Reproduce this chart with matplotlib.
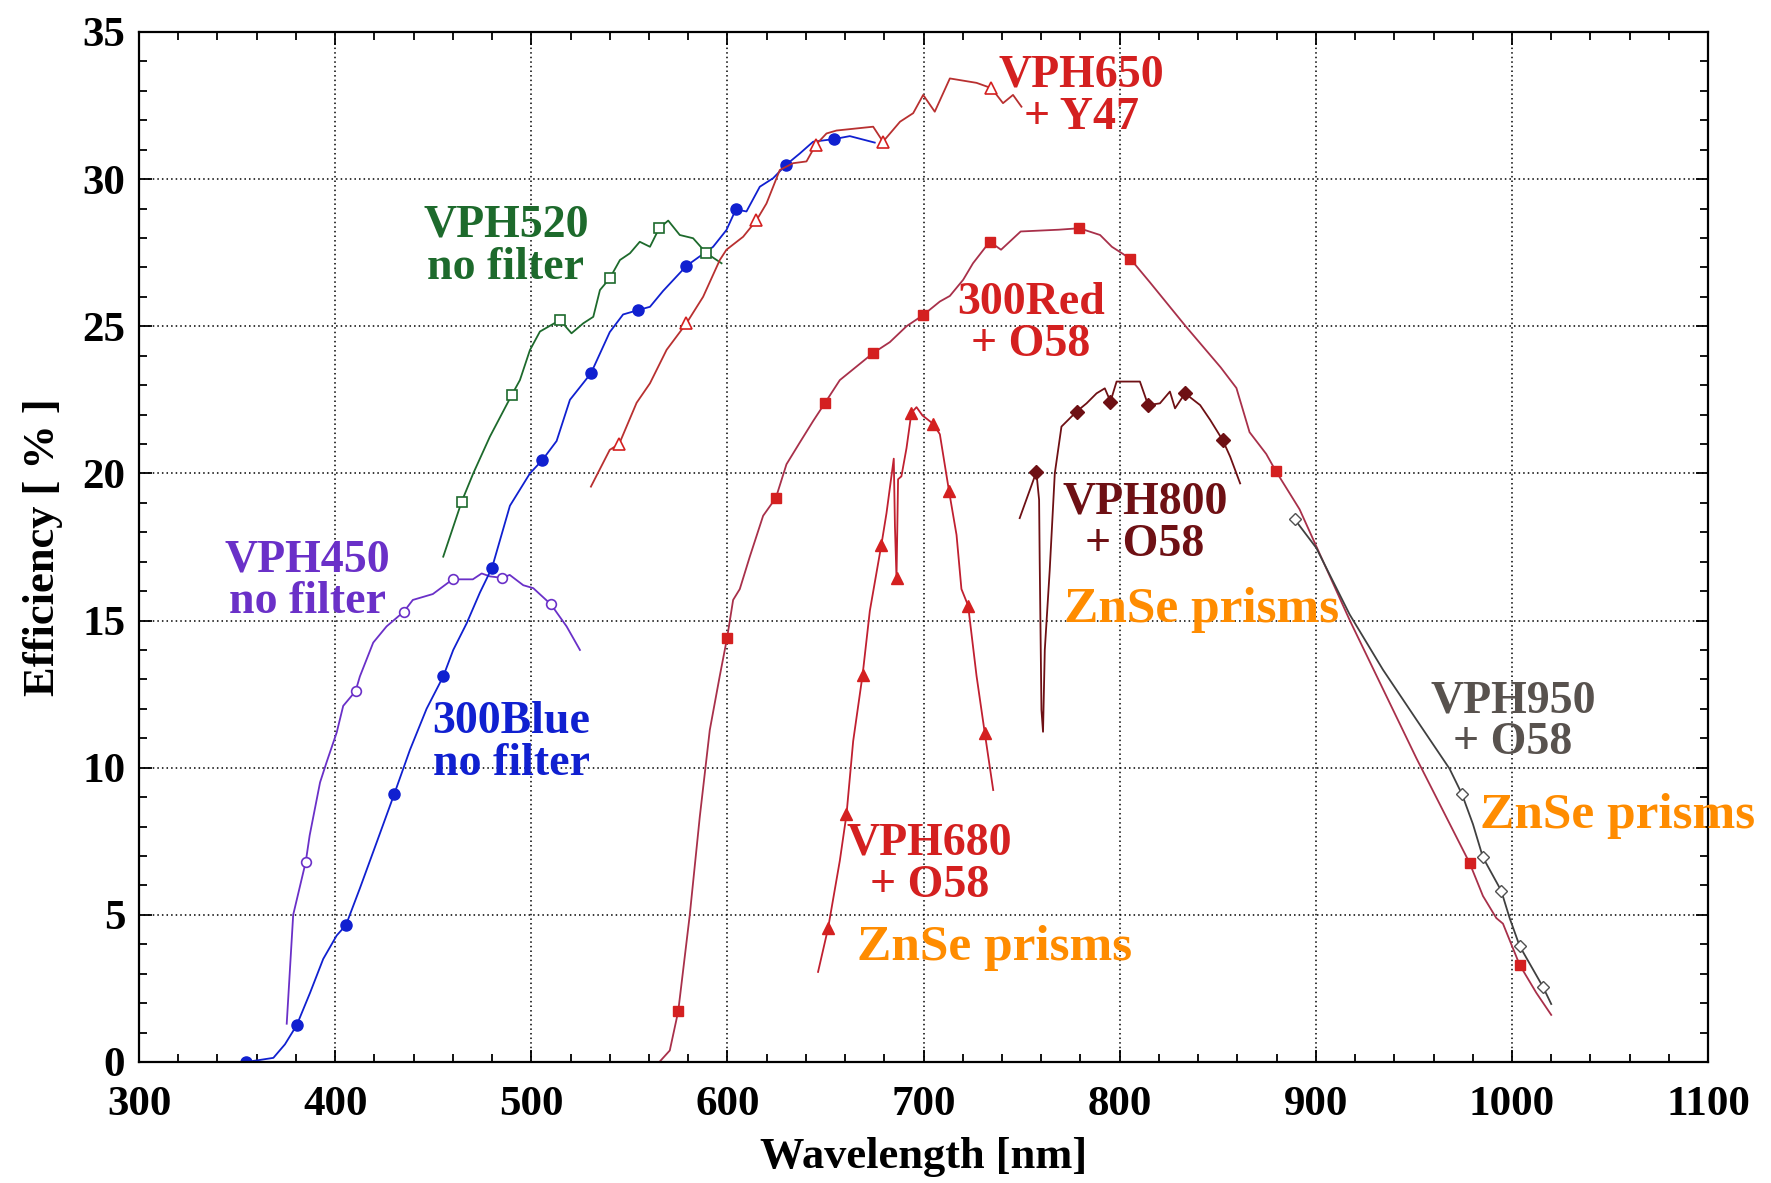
import matplotlib
matplotlib.use("Agg")
import matplotlib.pyplot as plt
from matplotlib.ticker import MultipleLocator

plt.rcParams['font.family'] = ['Liberation Serif', 'DejaVu Serif']
plt.rcParams['font.weight'] = 'bold'

# --- 300Blue no filter ---
blue_wl = [354.6, 361.7, 368.5, 374.4, 380.4, 387.2, 393.9, 400.8, 405.5, 412.6, 421.1, 430.1,
           438.1, 446.6, 455.1, 460.2, 467.0, 473.8, 480.0, 489.1, 499.3, 505.6, 512.9, 519.7,
           530.4, 540.0, 546.8, 554.5, 560.5, 567.2, 579.1, 592.7, 599.5, 604.3, 609.7, 616.5,
           623.3, 629.8, 636.9, 643.7, 654.4, 662.4, 675.1]
blue_eff = [0.0, 0.07, 0.14, 0.6, 1.25, 2.35, 3.5, 4.3, 4.65, 5.9, 7.45, 9.1,
            10.6, 12.0, 13.1, 14.0, 14.9, 15.95, 16.8, 18.9, 20.0, 20.45, 21.1, 22.5,
            23.4, 24.8, 25.4, 25.55, 25.66, 26.2, 27.05, 27.7, 28.27, 28.97, 28.9, 29.74,
            30.03, 30.48, 30.87, 31.27, 31.36, 31.46, 31.24]
blue_mk_wl = [354.6, 380.4, 405.5, 430.1, 455.1, 480.0, 505.6, 530.4, 554.5, 579.1, 604.3, 629.8, 654.4]
blue_mk_eff = [0.0, 1.25, 4.65, 9.1, 13.1, 16.8, 20.45, 23.4, 25.55, 27.05, 28.97, 30.48, 31.36]

# --- VPH450 no filter ---
v450_wl = [375.3, 378.6, 385.0, 387.0, 392.3, 395.7, 400.8, 404.1, 410.4, 412.6, 419.4, 426.2,
           435.0, 439.6, 449.8, 459.9, 470.2, 474.7, 478.9, 485.2, 489.0, 495.9, 501.0, 510.0,
           518.0, 524.8]
v450_eff = [1.3, 5.0, 6.8, 7.7, 9.5, 10.2, 11.2, 12.1, 12.6, 13.1, 14.25, 14.8,
            15.3, 15.7, 15.9, 16.4, 16.4, 16.6, 16.5, 16.45, 16.55, 16.2, 16.1, 15.55,
            14.8, 14.0]
v450_mk_wl = [385.0, 410.4, 435.0, 459.9, 485.2, 510.0]
v450_mk_eff = [6.8, 12.6, 15.3, 16.4, 16.45, 15.55]

# --- VPH520 no filter ---
v520_wl = [455.1, 464.5, 470.4, 478.9, 490.0, 494.2, 499.3, 504.4, 514.6, 520.5, 526.5, 531.6,
           535.0, 540.0, 545.2, 550.3, 555.3, 560.5, 565.2, 569.8, 575.7, 582.5, 589.3, 597.0]
v520_eff = [17.17, 19.04, 20.0, 21.25, 22.66, 23.17, 24.19, 24.82, 25.21, 24.76, 25.1, 25.32,
            26.23, 26.63, 27.25, 27.48, 27.87, 27.7, 28.33, 28.59, 28.1, 27.99, 27.48, 27.14]
v520_mk_wl = [464.5, 490.0, 514.6, 540.0, 565.2, 589.3]
v520_mk_eff = [19.04, 22.66, 25.21, 26.63, 28.33, 27.48]

# --- VPH650 + Y47 ---
v650_wl = [530.4, 540.0, 544.8, 553.7, 560.5, 569.0, 579.1, 587.6, 596.1, 599.5, 608.0, 614.8,
           619.9, 626.7, 633.5, 640.3, 645.0, 650.5, 655.6, 674.3, 679.3, 688.0, 694.7, 699.8,
           705.7, 713.4, 727.0, 734.6, 740.5, 745.6, 749.9]
v650_eff = [19.55, 20.8, 21.0, 22.4, 23.06, 24.2, 25.1, 26.0, 27.25, 27.6, 28.04, 28.6,
            29.17, 30.31, 30.54, 30.6, 31.16, 31.55, 31.65, 31.78, 31.27, 31.95, 32.24, 32.86,
            32.29, 33.42, 33.27, 33.09, 32.58, 32.86, 32.46]
v650_mk_wl = [544.8, 579.1, 614.8, 645.0, 679.3, 734.6]
v650_mk_eff = [21.0, 25.1, 28.6, 31.16, 31.27, 33.09]

# --- 300Red + O58 ---
red_wl = [565.3, 570.6, 574.9, 580.8, 585.9, 591.0, 596.1, 599.8, 602.9, 606.3, 611.4, 618.2,
          624.7, 630.1, 636.9, 643.7, 649.6, 657.3, 665.8, 674.3, 682.8, 691.3, 699.8, 708.3,
          713.4, 720.2, 725.2, 733.7, 739.5, 749.5, 768.9, 779.4, 790.0, 796.0, 805.3, 815.3,
          834.0, 851.5, 859.5, 866.2, 874.7, 879.5, 891.7, 917.2, 951.2, 978.4, 985.2, 992.0,
          995.4, 1003.9, 1012.4, 1020.0]
red_eff = [0.0, 0.39, 1.72, 5.0, 8.33, 11.28, 13.12, 14.4, 15.7, 16.07, 17.17, 18.56,
           19.17, 20.31, 21.05, 21.78, 22.38, 23.17, 23.63, 24.09, 24.46, 25.0, 25.38, 25.84,
           26.03, 26.58, 27.14, 27.87, 27.6, 28.22, 28.28, 28.33, 28.1, 27.7, 27.3, 26.5,
           24.97, 23.6, 22.9, 21.4, 20.66, 20.09, 18.78, 15.02, 10.33, 6.76, 5.64, 4.89,
           4.7, 3.3, 2.35, 1.6]
red_mk_wl = [574.9, 599.8, 624.7, 649.6, 674.3, 699.8, 733.7, 779.4, 805.3, 879.5, 978.4, 1003.9]
red_mk_eff = [1.72, 14.4, 19.17, 22.38, 24.09, 25.38, 27.87, 28.33, 27.3, 20.09, 6.76, 3.3]

# --- VPH680 + O58 ---
v680_wl = [646.2, 651.3, 657.3, 660.7, 664.1, 668.9, 672.6, 678.5, 681.1, 684.8, 685.4, 686.2,
           687.0, 688.7, 691.3, 693.8, 696.4, 699.4, 704.8, 708.3, 713.0, 716.8, 719.3, 722.7,
           727.0, 731.2, 735.5]
v680_eff = [3.06, 4.54, 6.84, 8.41, 10.9, 13.15, 15.33, 17.58, 18.65, 20.5, 18.2, 16.44,
            19.8, 19.9, 20.86, 22.06, 22.25, 21.97, 21.69, 21.33, 19.39, 17.91, 16.07, 15.51,
            13.12, 11.18, 9.24]
v680_mk_wl = [651.3, 660.7, 668.9, 678.5, 686.2, 693.8, 704.8, 713.0, 722.7, 731.2]
v680_mk_eff = [4.54, 8.41, 13.15, 17.58, 16.44, 22.06, 21.69, 19.39, 15.51, 11.18]

# --- VPH800 + O58 ---
v800_wl = [749.0, 757.5, 758.9, 759.2, 760.1, 760.9, 761.8, 764.3, 766.9, 770.3, 778.0, 783.1,
           788.2, 792.4, 795.3, 798.4, 810.3, 814.5, 820.5, 825.6, 828.2, 833.3, 841.0, 846.1,
           852.5, 856.3, 861.4]
v800_eff = [18.48, 20.05, 19.1, 17.06, 11.96, 11.22, 14.0, 16.7, 20.0, 21.59, 22.1, 22.38,
            22.72, 22.89, 22.44, 23.12, 23.12, 22.32, 22.38, 22.78, 22.21, 22.72, 22.32, 21.82,
            21.13, 20.57, 19.66]
v800_mk_wl = [757.5, 778.0, 795.3, 814.5, 833.3, 852.5]
v800_mk_eff = [20.05, 22.1, 22.44, 22.32, 22.72, 21.13]

# --- VPH950 + O58 ---
v950_wl = [889.2, 900.2, 917.2, 934.2, 951.2, 968.2, 974.5, 980.1, 985.2, 994.5, 998.8, 1003.9,
           1015.8, 1020.0]
v950_eff = [18.44, 17.47, 15.21, 13.33, 11.64, 9.96, 9.1, 8.08, 6.95, 5.82, 4.89, 3.94,
            2.55, 1.97]
v950_mk_wl = [889.2, 974.5, 985.2, 994.5, 1003.9, 1015.8]
v950_mk_eff = [18.44, 9.1, 6.95, 5.82, 3.94, 2.55]

RED = '#d42020'
BLUE = '#1020d0'
PURPLE = '#6a30c8'
GREEN = '#1d6a2c'
DARKRED = '#6e1014'
GRAY = '#58524e'
ORANGE = '#ff8c00'

fig = plt.figure(figsize=(17.71, 11.83), dpi=100)
ax = fig.add_axes([0.0785, 0.1023, 0.886, 0.8707])

lw = 1.3
ax.plot(v450_wl, v450_eff, color=PURPLE, lw=lw)
ax.plot(v450_mk_wl, v450_mk_eff, ls='none', marker='o', ms=7, mfc='white', mec=PURPLE, mew=1.2)

ax.plot(blue_wl, blue_eff, color=BLUE, lw=lw)
ax.plot(blue_mk_wl, blue_mk_eff, ls='none', marker='o', ms=8, color=BLUE)

ax.plot(v520_wl, v520_eff, color=GREEN, lw=lw)
ax.plot(v520_mk_wl, v520_mk_eff, ls='none', marker='s', ms=6.5, mfc='white', mec=GREEN, mew=1.2)

ax.plot(v650_wl, v650_eff, color='#b83030', lw=lw)
ax.plot(v650_mk_wl, v650_mk_eff, ls='none', marker='^', ms=9, mfc='white', mec=RED, mew=1.2)

ax.plot(red_wl, red_eff, color='#a8304a', lw=lw)
ax.plot(red_mk_wl, red_mk_eff, ls='none', marker='s', ms=7, color=RED)

ax.plot(v680_wl, v680_eff, color='#c02030', lw=lw)
ax.plot(v680_mk_wl, v680_mk_eff, ls='none', marker='^', ms=9, color=RED)

ax.plot(v800_wl, v800_eff, color=DARKRED, lw=lw)
ax.plot(v800_mk_wl, v800_mk_eff, ls='none', marker='D', ms=7, color=DARKRED)

ax.plot(v950_wl, v950_eff, color='#404040', lw=lw)
ax.plot(v950_mk_wl, v950_mk_eff, ls='none', marker='D', ms=6.5, mfc='white', mec='#505050', mew=1.0)

# labels
fs = 33
lab = dict(fontsize=fs, fontweight='bold', ha='center', va='center', linespacing=1.0)
ax.text(487, 27.7, 'VPH520\nno filter', color=GREEN, **lab)
ax.text(780.6, 32.8, 'VPH650\n+ Y47', color=RED, **lab)
ax.text(754.7, 25.07, '300Red\n+ O58', color=RED, **lab)
ax.text(385.8, 16.33, 'VPH450\nno filter', color=PURPLE, **lab)
ax.text(490, 10.85, '300Blue\nno filter', color=BLUE, **lab)
ax.text(812.8, 18.29, 'VPH800\n+ O58', color=DARKRED, **lab)
ax.text(1000.4, 11.54, 'VPH950\n+ O58', color=GRAY, **lab)
ax.text(702.9, 6.7, 'VPH680\n+ O58', color=RED, **lab)
zn = dict(fontsize=37, fontweight='bold', ha='center', va='center', color=ORANGE, clip_on=False)
ax.text(841.6, 15.37, 'ZnSe prisms', **zn)
ax.text(1053.9, 8.36, 'ZnSe prisms', **zn)
ax.text(736.3, 3.87, 'ZnSe prisms', **zn)

ax.set_xlim(300, 1100)
ax.set_ylim(0, 35)
ax.xaxis.set_major_locator(MultipleLocator(100))
ax.xaxis.set_minor_locator(MultipleLocator(20))
ax.yaxis.set_major_locator(MultipleLocator(5))
ax.yaxis.set_minor_locator(MultipleLocator(1))
ax.tick_params(which='both', direction='in', top=True, right=True, width=1.3)
ax.tick_params(which='major', length=9, labelsize=31)
ax.tick_params(axis='x', which='major', pad=17)
ax.tick_params(axis='y', which='major', pad=10)
ax.tick_params(which='minor', length=6)
for s in ax.spines.values():
    s.set_linewidth(1.6)
ax.grid(True, which='major', color='black', ls=(0, (1, 2)), lw=1.1)

ax.set_xlabel('Wavelength [nm]', fontsize=32, fontweight='bold', labelpad=10)
ax.set_ylabel('Efficiency [ % ]', fontsize=32, fontweight='bold', labelpad=14)

fig.savefig('out.png', dpi=100)
